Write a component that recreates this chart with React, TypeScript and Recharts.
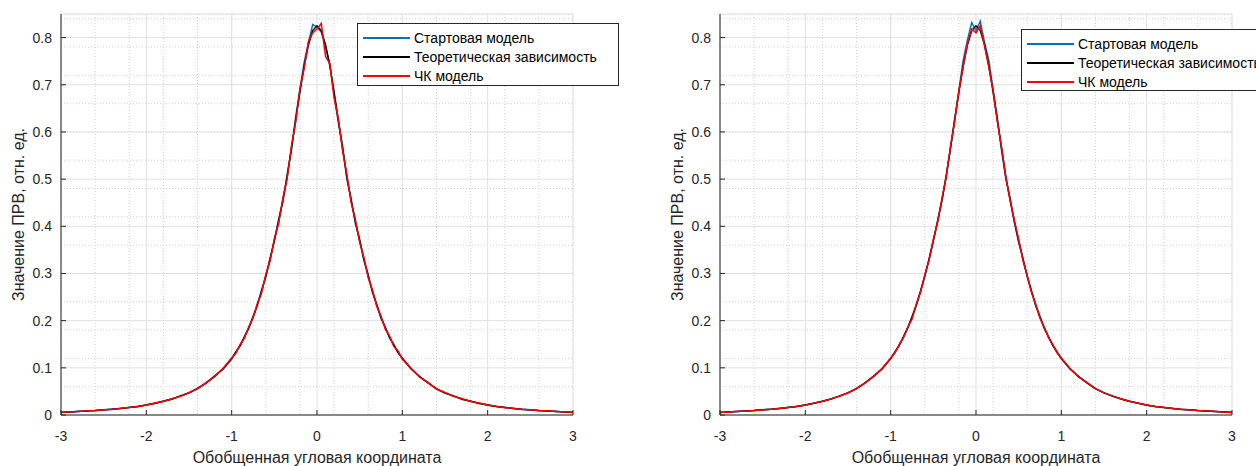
import React from "react";
import { LineChart, Line, XAxis, YAxis, CartesianGrid } from "recharts";

// x positions of the histogram samples (finer near the peak)
const X = [
  -3.0, -2.9, -2.8, -2.7, -2.6, -2.5, -2.4, -2.3, -2.2, -2.1, -2.0, -1.9, -1.8, -1.7, -1.6, -1.5, -1.4, -1.3, -1.2, -1.1,
  -1.0, -0.95, -0.9, -0.85, -0.8, -0.75, -0.7, -0.65, -0.6, -0.55, -0.5, -0.45, -0.4, -0.35, -0.3, -0.25, -0.2, -0.15, -0.1, -0.05,
  0, 0.05, 0.1, 0.15, 0.2, 0.25, 0.3, 0.35, 0.4, 0.45, 0.5, 0.55, 0.6, 0.65, 0.7, 0.75, 0.8, 0.85, 0.9, 0.95, 1.0,
  1.1, 1.2, 1.3, 1.4, 1.5, 1.6, 1.7, 1.8, 1.9, 2.0, 2.1, 2.2, 2.3, 2.4, 2.5, 2.6, 2.7, 2.8, 2.9, 3.0,
];

const THEORY = [
  0.0055, 0.0065, 0.0075, 0.0085, 0.0095, 0.011, 0.012, 0.014, 0.016, 0.018, 0.021, 0.025, 0.029, 0.034, 0.04, 0.047, 0.056, 0.068, 0.082, 0.098,
  0.12, 0.133, 0.148, 0.165, 0.185, 0.207, 0.233, 0.262, 0.295, 0.33, 0.37, 0.41, 0.455, 0.505, 0.565, 0.625, 0.685, 0.74, 0.785, 0.815,
  0.825, 0.815, 0.785, 0.74, 0.685, 0.625, 0.565, 0.505, 0.455, 0.41, 0.37, 0.33, 0.295, 0.262, 0.233, 0.207, 0.185, 0.165, 0.148, 0.133, 0.12,
  0.098, 0.082, 0.068, 0.056, 0.047, 0.04, 0.034, 0.029, 0.025, 0.021, 0.018, 0.016, 0.014, 0.012, 0.011, 0.0095, 0.0085, 0.0075, 0.0065, 0.0055,
];

// left panel
const START_A = [
  0.006, 0.0062, 0.008, 0.0083, 0.0098, 0.0105, 0.0125, 0.0138, 0.0165, 0.0175, 0.0215, 0.0245, 0.0295, 0.0335, 0.041, 0.0465, 0.057, 0.067, 0.083, 0.097,
  0.118, 0.135, 0.146, 0.167, 0.183, 0.209, 0.231, 0.265, 0.292, 0.333, 0.368, 0.415, 0.452, 0.51, 0.56, 0.632, 0.69, 0.748, 0.79, 0.828,
  0.822, 0.812, 0.78, 0.745, 0.68, 0.62, 0.57, 0.5, 0.458, 0.405, 0.372, 0.327, 0.298, 0.259, 0.235, 0.204, 0.187, 0.163, 0.15, 0.131, 0.121,
  0.099, 0.081, 0.069, 0.055, 0.046, 0.041, 0.033, 0.0295, 0.0245, 0.0215, 0.0178, 0.0163, 0.0138, 0.0122, 0.0108, 0.0097, 0.0083, 0.0077, 0.0063, 0.0056,
];
const CHK_A = [
  0.0058, 0.0068, 0.0072, 0.0088, 0.0092, 0.0113, 0.0118, 0.0143, 0.0158, 0.0185, 0.0205, 0.0255, 0.0285, 0.0345, 0.0395, 0.0478, 0.0552, 0.0685, 0.0815, 0.0992,
  0.121, 0.131, 0.15, 0.163, 0.187, 0.205, 0.236, 0.258, 0.298, 0.326, 0.374, 0.405, 0.46, 0.5, 0.57, 0.62, 0.692, 0.735, 0.792, 0.81,
  0.818, 0.83, 0.76, 0.745, 0.672, 0.628, 0.56, 0.51, 0.45, 0.414, 0.366, 0.334, 0.291, 0.265, 0.23, 0.21, 0.182, 0.168, 0.145, 0.136, 0.118,
  0.0995, 0.0805, 0.0692, 0.0548, 0.0478, 0.0395, 0.0345, 0.0285, 0.0255, 0.0205, 0.0185, 0.0155, 0.0145, 0.0118, 0.0113, 0.0092, 0.0088, 0.0072, 0.0068, 0.0058,
];

// right panel
const START_B = [
  0.0052, 0.0068, 0.0073, 0.0087, 0.0093, 0.0112, 0.0123, 0.0137, 0.0163, 0.0178, 0.0212, 0.0247, 0.0292, 0.0338, 0.0405, 0.0468, 0.0565, 0.0675, 0.0825, 0.0975,
  0.119, 0.134, 0.147, 0.166, 0.184, 0.208, 0.232, 0.263, 0.294, 0.331, 0.369, 0.412, 0.453, 0.507, 0.563, 0.628, 0.688, 0.752, 0.795, 0.832,
  0.815, 0.835, 0.79, 0.752, 0.69, 0.63, 0.56, 0.5, 0.46, 0.408, 0.365, 0.333, 0.293, 0.264, 0.231, 0.209, 0.183, 0.166, 0.147, 0.134, 0.119,
  0.0985, 0.0815, 0.0685, 0.0555, 0.0475, 0.0395, 0.0345, 0.0285, 0.0252, 0.0208, 0.0182, 0.0158, 0.0142, 0.0118, 0.0112, 0.0093, 0.0087, 0.0073, 0.0067, 0.0053,
];
const CHK_B = [
  0.0057, 0.0063, 0.0078, 0.0082, 0.0097, 0.0108, 0.0122, 0.0142, 0.0157, 0.0183, 0.0208, 0.0252, 0.0288, 0.0342, 0.0398, 0.0472, 0.0558, 0.0682, 0.0818, 0.0988,
  0.121, 0.132, 0.149, 0.164, 0.186, 0.203, 0.235, 0.26, 0.297, 0.328, 0.372, 0.408, 0.458, 0.503, 0.568, 0.622, 0.688, 0.738, 0.788, 0.818,
  0.81, 0.825, 0.782, 0.738, 0.688, 0.622, 0.568, 0.503, 0.455, 0.412, 0.372, 0.328, 0.296, 0.26, 0.235, 0.205, 0.186, 0.164, 0.149, 0.132, 0.121,
  0.0992, 0.0815, 0.0685, 0.0558, 0.0468, 0.0405, 0.0338, 0.0292, 0.0248, 0.0212, 0.0178, 0.0162, 0.0138, 0.0122, 0.0108, 0.0097, 0.0083, 0.0077, 0.0063, 0.0057,
];

const X_TICKS = [-3, -2, -1, 0, 1, 2, 3];
const Y_TICKS = [0, 0.1, 0.2, 0.3, 0.4, 0.5, 0.6, 0.7, 0.8];
const X_MINOR = [
  -3, -2.8, -2.6, -2.4, -2.2, -2, -1.8, -1.6, -1.4, -1.2, -1, -0.8, -0.6, -0.4, -0.2, 0,
  0.2, 0.4, 0.6, 0.8, 1, 1.2, 1.4, 1.6, 1.8, 2, 2.2, 2.4, 2.6, 2.8, 3,
];
const Y_MINOR = [
  0, 0.02, 0.04, 0.06, 0.08, 0.1, 0.12, 0.14, 0.16, 0.18, 0.2, 0.22, 0.24, 0.26, 0.28, 0.3,
  0.32, 0.34, 0.36, 0.38, 0.4, 0.42, 0.44, 0.46, 0.48, 0.5, 0.52, 0.54, 0.56, 0.58, 0.6,
  0.62, 0.64, 0.66, 0.68, 0.7, 0.72, 0.74, 0.76, 0.78, 0.8, 0.82, 0.84,
];

const SERIES_NAMES = ["Стартовая модель", "Теоретическая зависимость", "ЧК модель"];
const COLORS = ["#0072BD", "#000000", "#FF0000"];
const X_LABEL = "Обобщенная угловая координата";
const Y_LABEL = "Значение ПРВ, отн. ед.";

const FONT = "'Liberation Sans', Arial, Helvetica, sans-serif";
const INK = "#262626";

function Panel({ start, chk, left, width, marginRight, legend }: {
  start: number[];
  chk: number[];
  left: number;
  width: number;
  marginRight: number;
  legend: { left: number; top: number; height: number; rowGap: number };
}) {
  const data = X.map((x, i) => ({ x, start: start[i], theory: THEORY[i], chk: chk[i] }));
  const tickStyle = { fill: INK, fontSize: 14, fontFamily: FONT };
  return (
    <div style={{ position: "absolute", left, top: 0, width, height: 466 }}>
      <LineChart width={width} height={466} data={data} margin={{ top: 14, right: marginRight, bottom: 0, left: 0 }}>
        <XAxis xAxisId="minor" dataKey="x" type="number" domain={[-3, 3]} ticks={X_MINOR} hide />
        <YAxis yAxisId="minor" dataKey="theory" type="number" domain={[0, 0.85]} ticks={Y_MINOR} allowDataOverflow hide />
        <CartesianGrid xAxisId="minor" yAxisId="minor" stroke="#d0d0d0" strokeDasharray="1 2" />
        <CartesianGrid stroke="#e0e0e0" />
        <Line dataKey="start" stroke={COLORS[0]} strokeWidth={1.5} dot={false} isAnimationActive={false} />
        <Line dataKey="theory" stroke={COLORS[1]} strokeWidth={1.5} dot={false} isAnimationActive={false} />
        <Line dataKey="chk" stroke={COLORS[2]} strokeWidth={1.5} dot={false} isAnimationActive={false} />
        <XAxis
          dataKey="x"
          type="number"
          domain={[-3, 3]}
          ticks={X_TICKS}
          height={51}
          tickSize={-5}
          tickMargin={21}
          stroke={INK}
          tick={tickStyle}
          label={{ value: X_LABEL, position: "insideBottom", offset: 3, style: { fill: INK, fontSize: 16, fontFamily: FONT } }}
        />
        <YAxis
          type="number"
          domain={[0, 0.85]}
          ticks={Y_TICKS}
          width={61}
          tickSize={-5}
          tickMargin={14}
          stroke={INK}
          tick={tickStyle}
          label={{ value: Y_LABEL, angle: -90, position: "insideLeft", offset: 18, style: { textAnchor: "middle", fill: INK, fontSize: 16, fontFamily: FONT } }}
        />
        <XAxis xAxisId="top" orientation="top" dataKey="x" type="number" domain={[-3, 3]} ticks={X_TICKS} height={0} tickSize={-5} tick={false} stroke={INK} />
        <YAxis yAxisId="right" orientation="right" dataKey="theory" type="number" domain={[0, 0.85]} ticks={Y_TICKS} allowDataOverflow width={0} tickSize={-5} tick={false} stroke={INK} />
      </LineChart>
      <div
        style={{
          position: "absolute",
          left: legend.left - left,
          top: legend.top,
          width: 262,
          height: legend.height,
          border: `1px solid ${INK}`,
          background: "#fff",
          boxSizing: "border-box",
          fontFamily: FONT,
          fontSize: 14,
          color: "#000",
          paddingTop: 4,
        }}
      >
        {SERIES_NAMES.map((name, i) => (
          <div key={name} style={{ display: "flex", alignItems: "center", height: legend.rowGap, whiteSpace: "nowrap" }}>
            <span style={{ display: "inline-block", width: 47, height: 2, background: COLORS[i], marginLeft: 5, marginRight: 4 }} />
            <span>{name}</span>
          </div>
        ))}
      </div>
    </div>
  );
}

export default function App() {
  return (
    <div style={{ position: "absolute", left: 0, top: 0, width: 1256, height: 466, overflow: "hidden", background: "#fff" }}>
      <Panel start={START_A} chk={CHK_A} left={0} width={620} marginRight={47} legend={{ left: 357, top: 23, height: 63, rowGap: 19 }} />
      <Panel start={START_B} chk={CHK_B} left={659} width={597} marginRight={24} legend={{ left: 1021, top: 29, height: 62, rowGap: 19 }} />
    </div>
  );
}
